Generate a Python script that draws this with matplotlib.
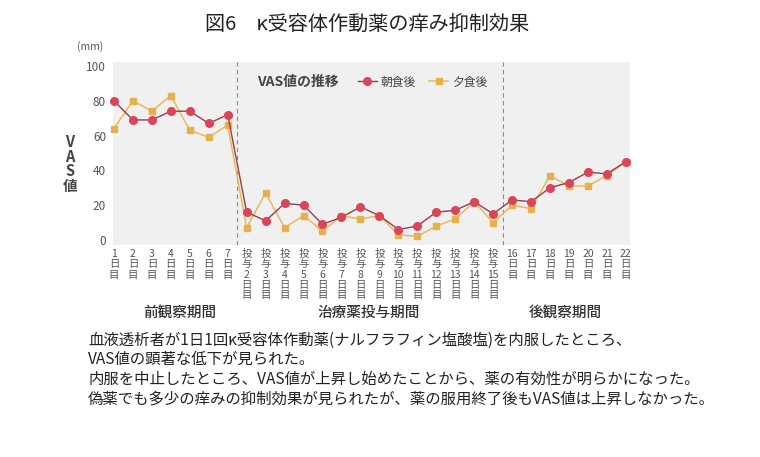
import matplotlib
matplotlib.use("Agg")
import matplotlib.pyplot as plt
from matplotlib.lines import Line2D

plt.rcParams["font.family"] = ["Noto Sans CJK JP", "DejaVu Sans"]

# --- data ---
days = (["1", "2", "3", "4", "5", "6", "7"]
        + ["投与" + str(d) for d in range(2, 16)]
        + ["16", "17", "18", "19", "20", "21", "22"])
morning = [80, 69, 69, 74, 74, 67, 72,
           16, 11, 21, 20, 9, 13, 19, 14, 6, 8, 16, 17, 22, 15,
           23, 22, 30, 33, 39, 38, 45]
evening = [64, 80, 74, 83, 63, 59, 66,
           7, 27, 7, 14, 5, 14, 12, 14, 3, 2, 8, 12, 22, 10,
           20, 18, 37, 31, 31, 37, 45]
periods = ["前観察期間", "治療薬投与期間", "後観察期間"]
yticks = [0, 20, 40, 60, 80, 100]

title = "図6　κ受容体作動薬の痒み抑制効果"
notes = [
    "血液透析者が1日1回κ受容体作動薬(ナルフラフィン塩酸塩)を内服したところ、",
    "VAS値の顕著な低下が見られた。",
    "内服を中止したところ、VAS値が上昇し始めたことから、薬の有効性が明らかになった。",
    "偽薬でも多少の痒みの抑制効果が見られたが、薬の服用終了後もVAS値は上昇しなかった。",
]

red_m, red_l = "#dc4457", "#9c3a4c"
yel_m, yel_l = "#e6b04a", "#e8b95c"

fig = plt.figure(figsize=(7.6, 4.57), dpi=100)
ax = fig.add_axes([113 / 760, 1 - 245 / 457, 517 / 760, 183 / 457])
ax.set_facecolor("#f0f0f0")
for s in ax.spines.values():
    s.set_visible(False)

x = list(range(len(days)))
ax.plot(x, evening, color=yel_l, lw=1.1, marker="s", ms=4.5,
        mfc=yel_m, mec=yel_m, clip_on=False, zorder=3)
ax.plot(x, morning, color=red_l, lw=1.0, marker="o", ms=5.5,
        mfc=red_m, mec=red_m, clip_on=False, zorder=4)

ax.set_xlim(-0.05, 27.22)
ax.set_ylim(-2.9, 102.3)

for xv in (6.5, 20.5):
    ax.axvline(xv, color="#8a8a8a", lw=0.8, ls=(0, (4, 3)), zorder=2)

ax.set_yticks(yticks)
ax.set_yticklabels([str(v) for v in yticks], fontsize=8.5, color="#555555")
ax.tick_params(axis="y", length=0, pad=5)

labels = ["\n".join(list(d[:2]) + [d[2:]] + ["日", "目"]) if d.startswith("投与")
          else "\n".join([d, "日", "目"]) for d in days]
ax.set_xticks(x)
ax.set_xticklabels(labels, fontsize=7.5, color="#555555")
ax.tick_params(axis="x", length=0, pad=3)
for t in ax.get_xticklabels():
    t.set_linespacing(1.03)

# axis annotations
fig.text(90 / 760, 1 - 47 / 457, "(mm)", fontsize=7.5, color="#555555",
         ha="center", va="center")
fig.text(70 / 760, 1 - 164 / 457, "V\nA\nS\n値", fontsize=10.5, color="#444444",
         ha="center", va="center", linespacing=0.92, fontweight="bold")

# period labels
for cx, txt in zip((180, 369, 565), periods):
    fig.text(cx / 760, 1 - 313 / 457, txt, fontsize=10.5, color="#333333",
             ha="center", va="center", fontweight="medium")

# legend
fig.text(257 / 760, 1 - 82 / 457, "VAS値の推移", fontsize=10, color="#444444",
         ha="left", va="center", fontweight="bold")
handles = [Line2D([], [], color=red_l, marker="o", mfc=red_m, mec=red_m, ms=5.5, lw=1.0),
           Line2D([], [], color=yel_l, marker="s", mfc=yel_m, mec=yel_m, ms=4.5, lw=1.1)]
fig.legend(handles, ["朝食後", "夕食後"], loc="center left",
           bbox_to_anchor=(347 / 760, 1 - 82 / 457), ncol=2, frameon=False,
           fontsize=8.5, handlelength=1.6, handletextpad=0.3, columnspacing=1.2,
           labelcolor="#444444")

fig.text(367 / 760, 1 - 24 / 457, title, fontsize=14.5, color="#222222",
         ha="center", va="center")

for i, line in enumerate(notes):
    fig.text(88 / 760, 1 - (340 + i * 19.7) / 457, line, fontsize=11.1,
             color="#222222", ha="left", va="center")

fig.savefig("out.png", dpi=100)
